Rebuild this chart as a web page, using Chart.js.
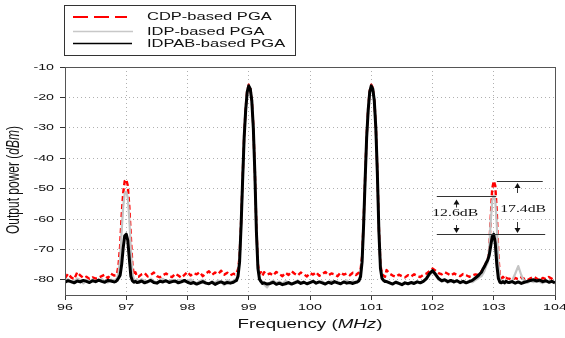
<!DOCTYPE html>
<html>
<head>
<meta charset="utf-8">
<script src="https://cdn.jsdelivr.net/npm/chart.js@4.4.0/dist/chart.umd.min.js"></script>
<style>
html, body { margin: 0; padding: 0; background: #fff; }
#wrap { width: 565px; height: 338px; }
</style>
</head>
<body>
<div id="wrap"><canvas id="spectrum" width="565" height="338"></canvas></div>
<script>
// frequency grid (MHz), denser around the tones
var freqMHz = [
    96.00,96.05,96.10,96.15,96.20,96.25,96.30,96.35,96.40,96.45,96.50,96.55,96.60,96.65,96.70,96.75,96.80,
    96.825,96.85,96.875,96.90,96.925,96.95,96.975,97.00,97.025,97.05,97.075,97.10,97.125,97.15,97.175,
    97.20,97.25,97.30,97.35,97.40,97.45,97.50,97.55,97.60,97.65,97.70,97.75,97.80,97.85,97.90,97.95,
    98.00,98.05,98.10,98.15,98.20,98.25,98.30,98.35,98.40,98.45,98.50,98.55,98.60,98.65,98.70,98.75,
    98.775,98.80,98.825,98.85,98.875,98.90,98.925,98.95,98.975,99.00,99.025,99.05,99.075,99.10,99.125,99.15,99.175,99.20,99.225,
    99.25,99.30,99.35,99.40,99.45,99.50,99.55,99.60,99.65,99.70,99.75,99.80,99.85,99.90,99.95,
    100.00,100.05,100.10,100.15,100.20,100.25,100.30,100.35,100.40,100.45,100.50,100.55,100.60,100.65,100.70,100.75,
    100.775,100.80,100.825,100.85,100.875,100.90,100.925,100.95,100.975,101.00,101.025,101.05,101.075,101.10,101.125,101.15,101.175,101.20,101.225,
    101.25,101.30,101.35,101.40,101.45,101.50,101.55,101.60,101.65,101.70,101.75,101.80,101.85,101.90,101.95,
    102.00,102.05,102.10,102.15,102.20,102.25,102.30,102.35,102.40,102.45,102.50,102.55,102.60,102.65,102.70,102.75,
    102.775,102.80,102.825,102.85,102.875,102.90,102.925,102.95,102.975,103.00,103.025,103.05,103.075,103.10,103.125,103.15,103.175,103.20,103.225,
    103.25,103.30,103.35,103.40,103.45,103.50,103.55,103.60,103.65,103.70,103.75,103.80,103.85,103.90,103.95,104.00
];

var cdpPGA = [
    -79.5,-78.0,-79.2,-79.8,-77.5,-78.6,-79.4,-79.0,-79.7,-79.2,-79.6,-79.3,-78.8,-78.3,-79.5,-78.0,-78.6,
    -78.5,-78.0,-75.0,-69.0,-59.0,-51.5,-47.5,-47.0,-49.0,-56.0,-66.0,-75.0,-78.5,-77.5,-79.0,
    -79.0,-78.2,-77.8,-78.9,-78.4,-77.6,-78.8,-79.2,-78.5,-77.9,-78.7,-79.1,-78.0,-78.6,-79.3,-78.4,
    -77.4,-78.6,-77.8,-78.2,-77.5,-78.8,-77.9,-77.2,-78.4,-77.6,-78.1,-77.0,-78.3,-77.7,-78.5,-78.0,
    -78.2,-77.8,-76.5,-72.5,-61.0,-46.5,-32.5,-23.5,-17.8,-15.8,-16.8,-20.8,-29.5,-44.5,-63.0,-75.0,-78.0,-77.5,-78.6,
    -77.5,-78.3,-77.9,-78.6,-77.4,-78.1,-78.8,-77.7,-78.4,-77.2,-78.0,-78.6,-77.6,-78.2,-78.9,
    -77.8,-78.3,-77.5,-78.7,-78.1,-77.4,-78.5,-77.9,-78.2,-78.8,-77.6,-78.3,-77.9,-78.5,-77.7,-78.4,
    -78.0,-77.6,-76.8,-72.5,-61.0,-46.5,-32.5,-23.5,-17.8,-15.8,-16.8,-20.8,-29.5,-44.5,-63.0,-75.0,-78.2,-78.6,-79.0,
    -76.8,-78.0,-78.6,-79.0,-78.3,-78.8,-79.2,-78.5,-78.9,-78.2,-78.7,-79.1,-78.4,-78.0,-77.2,
    -76.3,-77.0,-77.8,-78.2,-77.5,-78.0,-78.6,-77.9,-78.4,-78.8,-78.1,-78.5,-79.0,-78.6,-78.2,-78.4,
    -78.0,-77.2,-76.5,-75.5,-74.5,-74.0,-70.0,-60.0,-50.0,-47.5,-49.0,-58.0,-72.0,-79.0,-79.5,-79.0,-79.8,-79.3,-79.6,
    -79.6,-80.0,-79.4,-79.8,-79.2,-79.7,-80.1,-79.5,-79.0,-79.6,-80.2,-79.4,-79.8,-79.1,-79.7,-80.3
];

var idpPGA = [
    -80.2,-79.8,-80.9,-80.4,-79.6,-80.1,-81.2,-80.0,-80.6,-79.9,-80.8,-80.2,-79.7,-80.5,-80.9,-79.9,-80.3,
    -80.0,-79.5,-77.5,-73.0,-64.0,-56.0,-51.5,-51.0,-53.0,-60.0,-70.0,-77.5,-80.0,-80.5,-79.8,
    -80.5,-79.8,-80.2,-80.9,-79.6,-80.4,-81.0,-80.1,-79.7,-80.6,-80.3,-79.9,-80.8,-80.2,-80.0,-80.7,
    -80.3,-79.9,-80.6,-81.1,-80.4,-80.0,-80.8,-81.3,-80.5,-80.9,-80.2,-80.6,-81.8,-80.1,-80.7,-80.3,
    -80.0,-79.6,-78.2,-73.8,-62.0,-47.0,-33.0,-24.0,-18.0,-16.1,-17.0,-21.0,-30.0,-45.0,-64.0,-76.0,-79.3,-80.2,-80.6,
    -81.5,-82.5,-80.8,-80.3,-81.0,-80.6,-81.2,-80.4,-80.9,-81.3,-80.7,-80.2,-81.0,-80.6,-81.4,
    -80.8,-80.3,-81.1,-80.7,-80.5,-81.2,-80.9,-80.4,-81.0,-80.6,-81.3,-80.8,-80.2,-81.0,-80.5,-80.9,
    -80.3,-79.8,-78.4,-73.8,-62.0,-47.0,-33.0,-24.0,-18.0,-16.1,-17.0,-21.0,-30.0,-45.0,-64.0,-76.0,-79.0,-80.0,-80.4,
    -80.4,-80.9,-81.3,-80.6,-81.0,-81.5,-80.8,-81.2,-80.7,-81.1,-80.5,-81.0,-80.6,-79.8,-78.5,
    -77.5,-78.6,-80.0,-80.6,-80.3,-81.0,-80.5,-80.9,-80.4,-81.2,-80.6,-81.0,-80.3,-80.8,-80.1,-79.5,
    -79.0,-78.8,-78.0,-77.0,-75.5,-74.5,-70.0,-61.0,-54.0,-52.3,-54.0,-62.0,-74.0,-79.5,-80.6,-80.2,-80.9,-80.4,-80.7,
    -80.8,-80.3,-78.0,-75.5,-78.5,-80.6,-81.0,-80.4,-80.8,-80.2,-80.7,-81.1,-80.5,-80.9,-80.4,-80.8
];

var idpabPGA = [
    -80.8,-80.3,-80.6,-81.0,-80.4,-80.7,-80.2,-80.5,-80.9,-80.3,-80.6,-80.1,-80.5,-80.8,-80.2,-80.4,-80.7,
    -80.6,-80.2,-79.4,-78.5,-75.0,-69.5,-65.5,-65.0,-67.0,-73.0,-78.8,-80.3,-80.8,-80.5,-80.9,
    -80.8,-80.4,-81.0,-80.6,-80.2,-80.9,-81.1,-80.5,-80.7,-80.3,-80.9,-80.6,-80.4,-81.0,-80.7,-80.2,
    -80.8,-81.2,-80.9,-81.4,-81.0,-80.6,-81.1,-81.3,-80.8,-81.5,-81.0,-80.7,-81.2,-80.9,-81.1,-80.8,
    -80.5,-80.2,-78.8,-74.2,-62.2,-47.2,-33.2,-24.2,-18.2,-16.2,-17.2,-21.2,-30.2,-45.2,-64.2,-76.2,-79.8,-80.6,-81.2,
    -81.0,-81.4,-81.2,-80.8,-81.5,-81.1,-81.6,-81.3,-80.9,-81.4,-81.0,-80.6,-81.2,-80.8,-81.3,
    -80.9,-80.5,-81.1,-80.7,-81.0,-81.4,-80.8,-81.2,-80.6,-81.0,-81.3,-80.7,-81.1,-80.9,-81.2,-80.8,
    -80.7,-80.3,-79.0,-74.2,-62.2,-47.2,-33.2,-24.2,-18.2,-16.2,-17.2,-21.2,-30.2,-45.2,-64.2,-76.2,-79.5,-80.2,-80.6,
    -80.6,-81.0,-81.4,-80.8,-81.2,-81.6,-81.0,-81.3,-80.9,-81.2,-80.7,-81.0,-80.5,-79.6,-78.0,
    -77.0,-78.2,-79.6,-80.3,-80.0,-80.6,-80.2,-80.7,-80.3,-80.9,-80.5,-81.0,-80.6,-80.2,-79.4,-78.6,
    -78.0,-77.5,-76.4,-75.6,-74.5,-73.6,-72.0,-69.0,-65.8,-65.0,-68.0,-75.0,-79.5,-80.8,-81.0,-80.6,-81.0,-80.5,-80.8,
    -80.9,-80.6,-81.1,-80.7,-81.2,-80.8,-80.5,-80.2,-80.0,-80.4,-80.1,-80.6,-80.3,-80.8,-80.5,-81.0
];

var seriesNames = ['CDP-based PGA', 'IDP-based PGA', 'IDPAB-based PGA'];

// the level marks at the 103 MHz tone (dBm) and the two gaps written beside them
var levelCDP = -47.6, levelIDP = -52.4, levelIDPAB = -65.0;
var gapLabels = ['12.6dB', '17.4dB'];

var STRETCH = 1.5;   // the original picture is wide-stretched, text included
var SANS = '"Liberation Sans", Arial, sans-serif';
var SERIF = '"Liberation Serif", "Times New Roman", serif';

function pts(arr) {
    return freqMHz.map(function(f, i){ return {x: f, y: arr[i]}; });
}

// draw a run of text pieces, horizontally stretched, centred/aligned on x
function wideText(ctx, parts, x, y, size, family, align) {
    var total = 0;
    parts.forEach(function(p){
        ctx.font = (p.it ? 'italic ' : '') + size + 'px ' + family;
        p.w = ctx.measureText(p.t).width * STRETCH;
        total += p.w;
    });
    var cx = align === 'right' ? x - total : (align === 'left' ? x : x - total / 2);
    ctx.textBaseline = 'middle';
    ctx.textAlign = 'left';
    parts.forEach(function(p){
        ctx.font = (p.it ? 'italic ' : '') + size + 'px ' + family;
        ctx.save();
        ctx.translate(cx, y);
        ctx.scale(STRETCH, 1);
        ctx.fillText(p.t, 0, 0);
        ctx.restore();
        cx += p.w;
    });
}

function arrow(ctx, x, tipY, dir, len) {
    // dir -1 points up, +1 points down
    ctx.beginPath();
    ctx.moveTo(x, tipY - dir * len);
    ctx.lineTo(x, tipY - dir * 3);
    ctx.stroke();
    ctx.beginPath();
    ctx.moveTo(x, tipY);
    ctx.lineTo(x - 3, tipY - dir * 5);
    ctx.lineTo(x + 3, tipY - dir * 5);
    ctx.closePath();
    ctx.fill();
}

var decorPlugin = {
    id: 'decor',
    afterDatasetsDraw: function(chart) {
        var ctx = chart.ctx, a = chart.chartArea;
        var xs = chart.scales.x, ys = chart.scales.y;
        ctx.save();

        // frame
        ctx.strokeStyle = '#555';
        ctx.lineWidth = 1;
        ctx.strokeRect(Math.round(a.left) + 0.5, Math.round(a.top) + 0.5, Math.round(a.right - a.left), Math.round(a.bottom - a.top));

        // level lines and arrows at 103 MHz
        var yTop = Math.round(ys.getPixelForValue(levelCDP)) + 0.5;
        var yMid = Math.round(ys.getPixelForValue(levelIDP)) + 0.5;
        var yLow = Math.round(ys.getPixelForValue(levelIDPAB)) + 0.5;
        ctx.strokeStyle = '#333';
        ctx.fillStyle = '#111';
        ctx.beginPath();
        ctx.moveTo(xs.getPixelForValue(103.05), yTop); ctx.lineTo(xs.getPixelForValue(103.8), yTop);
        ctx.moveTo(xs.getPixelForValue(102.07), yMid); ctx.lineTo(xs.getPixelForValue(103.04), yMid);
        ctx.moveTo(xs.getPixelForValue(102.07), yLow); ctx.lineTo(xs.getPixelForValue(103.84), yLow);
        ctx.stroke();

        var xl = Math.round(xs.getPixelForValue(102.39)) + 0.5;
        var xr = Math.round(xs.getPixelForValue(103.38)) + 0.5;
        arrow(ctx, xl, yMid + 3, -1, 8);
        arrow(ctx, xl, yLow - 1.5, 1, 8);
        arrow(ctx, xr, yTop + 1.5, -1, 10);
        arrow(ctx, xr, yLow - 1.5, 1, 11);

        wideText(ctx, [{t: gapLabels[0]}], xs.getPixelForValue(102.37), ys.getPixelForValue(-58.2), 10.5, SERIF, 'center');
        wideText(ctx, [{t: gapLabels[1]}], xs.getPixelForValue(103.48), ys.getPixelForValue(-56.8), 10.5, SERIF, 'center');
        ctx.restore();
    },
    afterDraw: function(chart) {
        var ctx = chart.ctx, a = chart.chartArea;
        var xs = chart.scales.x, ys = chart.scales.y;
        ctx.save();
        ctx.fillStyle = '#111';

        // tick labels
        xs.ticks.forEach(function(t, i){
            wideText(ctx, [{t: String(t.value)}], xs.getPixelForTick(i), a.bottom + 12, 9.5, SANS, 'center');
        });
        ys.ticks.forEach(function(t, i){
            wideText(ctx, [{t: String(t.value)}], a.left - 11, ys.getPixelForTick(i), 9.5, SANS, 'right');
        });

        // axis titles
        wideText(ctx, [{t: 'Frequency ('}, {t: 'MHz', it: true}, {t: ')'}], (a.left + a.right) / 2, 325, 12.5, SANS, 'center');
        ctx.save();
        ctx.translate(14, 180);
        ctx.rotate(-Math.PI / 2);
        ctx.scale(1, STRETCH);
        var parts = [{t: 'Output power ('}, {t: 'dBm', it: true}, {t: ')'}];
        var total = 0;
        parts.forEach(function(p){
            ctx.font = (p.it ? 'italic ' : '') + '12px ' + SANS;
            p.w = ctx.measureText(p.t).width;
            total += p.w;
        });
        var cx = -total / 2;
        ctx.textBaseline = 'middle';
        parts.forEach(function(p){
            ctx.font = (p.it ? 'italic ' : '') + '12px ' + SANS;
            ctx.fillText(p.t, cx, 0);
            cx += p.w;
        });
        ctx.restore();

        // legend box
        ctx.strokeStyle = '#333';
        ctx.lineWidth = 1;
        ctx.strokeRect(64.5, 5.5, 231, 50);
        var rows = [
            {y: 17, color: '#ff0000', w: 2, dash: [15, 6], x2: 127},
            {y: 31.5, color: '#c8c8c8', w: 1.5, dash: [], x2: 133},
            {y: 43.5, color: '#000', w: 1.5, dash: [], x2: 132}
        ];
        rows.forEach(function(r, i){
            ctx.save();
            ctx.strokeStyle = r.color;
            ctx.lineWidth = r.w;
            ctx.setLineDash(r.dash);
            ctx.beginPath();
            ctx.moveTo(73, r.y);
            ctx.lineTo(r.x2, r.y);
            ctx.stroke();
            ctx.restore();
            wideText(ctx, [{t: seriesNames[i]}], 147, r.y, 11, SANS, 'left');
        });
        ctx.restore();
    }
};

var gridCommon = {
    color: '#b0b0b0',
    lineWidth: 1,
    tickColor: '#333',
    tickLength: 5,
    tickBorderDash: []
};

new Chart(document.getElementById('spectrum'), {
    type: 'line',
    data: {
        datasets: [
            {label: seriesNames[0], data: pts(cdpPGA), borderColor: '#ff0000', borderWidth: 2.4, borderDash: [5, 3], order: 3},
            {label: seriesNames[1], data: pts(idpPGA), borderColor: '#c4c4c4', borderWidth: 2.2, order: 2},
            {label: seriesNames[2], data: pts(idpabPGA), borderColor: '#000000', borderWidth: 3, order: 1}
        ]
    },
    options: {
        responsive: false,
        animation: false,
        devicePixelRatio: 1,
        layout: {padding: {left: 25, right: 10, top: 67, bottom: 0}},
        elements: {
            point: {radius: 0},
            line: {tension: 0, borderJoinStyle: 'round', fill: false}
        },
        plugins: {legend: {display: false}, tooltip: {enabled: false}},
        scales: {
            x: {
                type: 'linear', min: 96, max: 104,
                ticks: {stepSize: 1, display: false},
                grid: gridCommon,
                border: {display: false, dash: [1, 3]},
                afterFit: function(s){ s.height = 43; }
            },
            y: {
                min: -85, max: -10,
                ticks: {stepSize: 10, display: false, includeBounds: false},
                grid: gridCommon,
                border: {display: false, dash: [1, 3]},
                afterFit: function(s){ s.width = 40; }
            }
        }
    },
    plugins: [decorPlugin]
});
</script>
</body>
</html>
